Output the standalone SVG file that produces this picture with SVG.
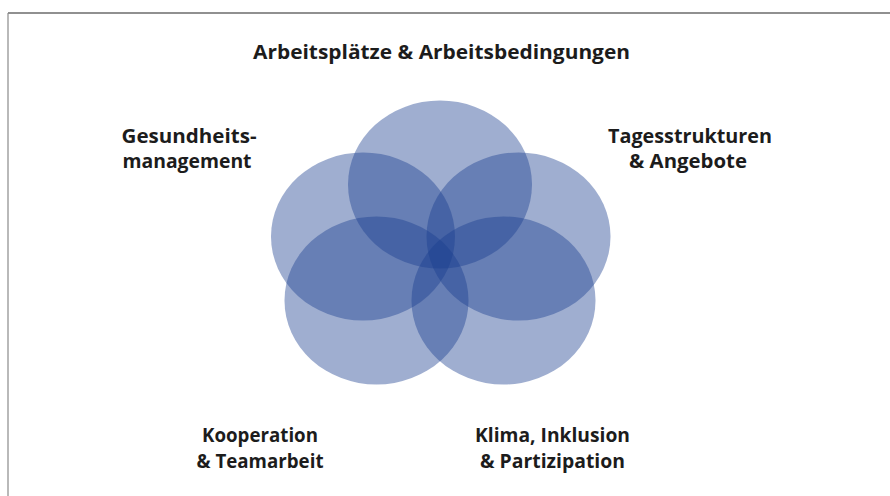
<svg xmlns="http://www.w3.org/2000/svg" width="890" height="496" viewBox="0 0 890 496">
  <style>
    .c { fill: #1b3d8f; fill-opacity: 0.42; }
    .t { font-family: "Open Sans", "Liberation Sans", sans-serif; font-weight: 700; font-size: 20px; fill: #1c1c1c; text-anchor: middle; }
  </style>
  <rect x="0" y="0" width="890" height="496" fill="#ffffff"/>
  <line x1="8" y1="13" x2="890" y2="13" stroke="#222222" stroke-width="1.2"/>
  <line x1="8" y1="13" x2="8" y2="496" stroke="#8a8a8a" stroke-width="1.2"/>
  <g id="arbeitsplaetze">
    <ellipse class="c" cx="440" cy="184.5" rx="92" ry="84"/>
    <text class="t" x="441.5" y="59" textLength="377" lengthAdjust="spacingAndGlyphs">Arbeitsplätze &amp; Arbeitsbedingungen</text>
  </g>
  <g id="gesundheitsmanagement">
    <ellipse class="c" cx="363" cy="236.5" rx="92" ry="84"/>
    <text class="t" x="189" y="143" textLength="135" lengthAdjust="spacingAndGlyphs">Gesundheits-</text>
    <text class="t" x="187" y="168" textLength="129" lengthAdjust="spacingAndGlyphs">management</text>
  </g>
  <g id="tagesstrukturen">
    <ellipse class="c" cx="518.5" cy="236.5" rx="92" ry="84"/>
    <text class="t" x="690" y="143" textLength="164" lengthAdjust="spacingAndGlyphs">Tagesstrukturen</text>
    <text class="t" x="688" y="168" textLength="118" lengthAdjust="spacingAndGlyphs">&amp; Angebote</text>
  </g>
  <g id="kooperation">
    <ellipse class="c" cx="376.5" cy="300.5" rx="92" ry="84"/>
    <text class="t" x="260" y="442" textLength="116" lengthAdjust="spacingAndGlyphs">Kooperation</text>
    <text class="t" x="260" y="468" textLength="127" lengthAdjust="spacingAndGlyphs">&amp; Teamarbeit</text>
  </g>
  <g id="klima">
    <ellipse class="c" cx="503.5" cy="300.5" rx="92" ry="84"/>
    <text class="t" x="552.5" y="442" textLength="155" lengthAdjust="spacingAndGlyphs">Klima, Inklusion</text>
    <text class="t" x="552.5" y="468" textLength="145" lengthAdjust="spacingAndGlyphs">&amp; Partizipation</text>
  </g>
  <g id="connectors"/>
</svg>
